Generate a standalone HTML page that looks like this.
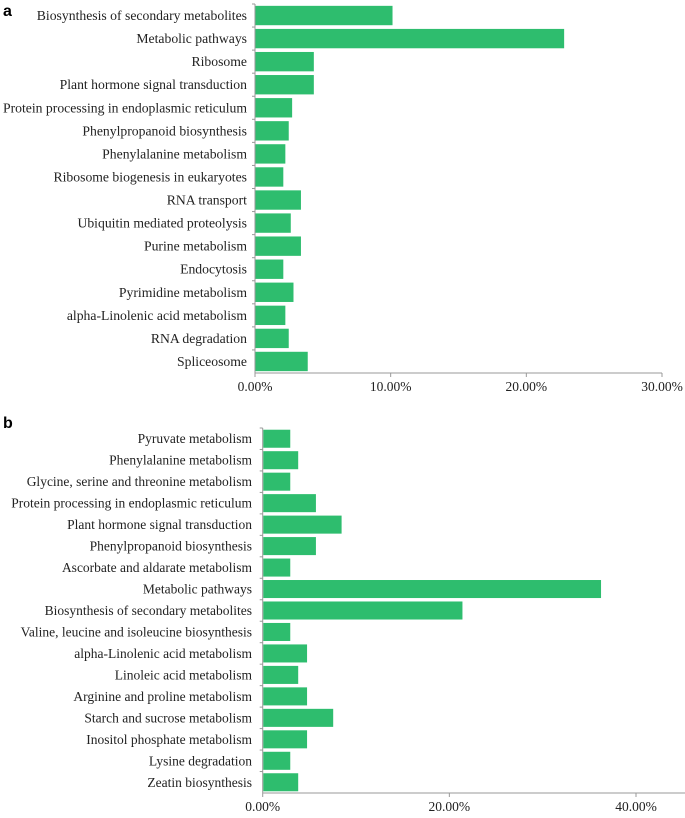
<!DOCTYPE html>
<html><head><meta charset="utf-8"><style>
html,body{margin:0;padding:0;background:#fff;}
svg{display:block;}
text{font-family:"Liberation Serif",serif;fill:#222;}
</style></head><body>
<svg id="chart" width="685" height="818" viewBox="0 0 685 818">
<text x="3" y="16" style="font-family:'Liberation Sans',sans-serif;font-weight:bold;font-size:16px;fill:#000">a</text>
<text x="3" y="428" style="font-family:'Liberation Sans',sans-serif;font-weight:bold;font-size:16px;fill:#000">b</text>
<g id="pa"></g>
<g id="pb"></g>
</svg>
<script>
const catsA = ["Biosynthesis of secondary metabolites","Metabolic pathways","Ribosome","Plant hormone signal transduction","Protein processing in endoplasmic reticulum","Phenylpropanoid biosynthesis","Phenylalanine metabolism","Ribosome biogenesis in eukaryotes","RNA transport","Ubiquitin mediated proteolysis","Purine metabolism","Endocytosis","Pyrimidine metabolism","alpha-Linolenic acid metabolism","RNA degradation","Spliceosome"];
const valsA = [10.1,22.75,4.3,4.3,2.7,2.45,2.2,2.05,3.35,2.6,3.35,2.05,2.8,2.2,2.45,3.85];
const ticksA = [0,10,20,30];
const tickLabelsA = ["0.00%","10.00%","20.00%","30.00%"];
const catsB = ["Pyruvate metabolism","Phenylalanine metabolism","Glycine, serine and threonine metabolism","Protein processing in endoplasmic reticulum","Plant hormone signal transduction","Phenylpropanoid biosynthesis","Ascorbate and aldarate metabolism","Metabolic pathways","Biosynthesis of secondary metabolites","Valine, leucine and isoleucine biosynthesis","alpha-Linolenic acid metabolism","Linoleic acid metabolism","Arginine and proline metabolism","Starch and sucrose metabolism","Inositol phosphate metabolism","Lysine degradation","Zeatin biosynthesis"];
const valsB = [2.9,3.75,2.9,5.65,8.4,5.65,2.9,36.2,21.35,2.9,4.7,3.75,4.7,7.5,4.7,2.9,3.75];
const ticksB = [0,20,40];
const tickLabelsB = ["0.00%","20.00%","40.00%"];

const NS="http://www.w3.org/2000/svg";
function mk(parent,tag,attrs){const e=document.createElementNS(NS,tag);for(const k in attrs)e.setAttribute(k,attrs[k]);parent.appendChild(e);return e;}

function panel(g,cats,vals,ticks,labels,cfg){
  const x=v=>cfg.x0+(v-ticks[0])/(ticks[ticks.length-1]-ticks[0])*(cfg.x1-cfg.x0);
  const band=(cfg.yb-cfg.yt)/cats.length;
  const y=i=>cfg.yt+i*band;
  cats.forEach((c,i)=>{
    const r=mk(g,'rect',{x:x(0)+0.5,y:y(i)+band*0.08,width:Math.max(0,x(vals[i])-x(0)),height:band*0.84,fill:'#2ebd6e'});
    
    
    const t=mk(g,'text',{x:cfg.lx,y:y(i)+band/2+4.5,'text-anchor':'end','font-size':cfg.fs});
    t.textContent=c;
    
    
    const tk=mk(g,'line',{x1:x(0)-3,x2:x(0),y1:y(i),y2:y(i),stroke:'#999'});
    
    
  });
  const ya=mk(g,'line',{x1:x(0),x2:x(0),y1:cfg.yt,y2:cfg.yb,stroke:'#999'});
  
  
  const xa=mk(g,'line',{x1:x(0),x2:cfg.xend,y1:cfg.yb,y2:cfg.yb,stroke:'#999'});
  
  
  ticks.forEach((v,i)=>{
    const l=mk(g,'line',{x1:x(v),x2:x(v),y1:cfg.yb,y2:cfg.yb+4,stroke:'#999'});
    
    
    const t=mk(g,'text',{x:x(v),y:cfg.yb+18,'text-anchor':'middle','font-size':13.5});
    t.textContent=labels[i];
    
    
  });
}
panel(document.getElementById('pa'),catsA,valsA,ticksA,tickLabelsA,{x0:255,x1:662,xend:662,yt:4,yb:373,lx:247,fs:13.7});
panel(document.getElementById('pb'),catsB,valsB,ticksB,tickLabelsB,{x0:262.7,x1:636,xend:685,yt:428,yb:793,lx:252,fs:13.5});
</script>
</body></html>
